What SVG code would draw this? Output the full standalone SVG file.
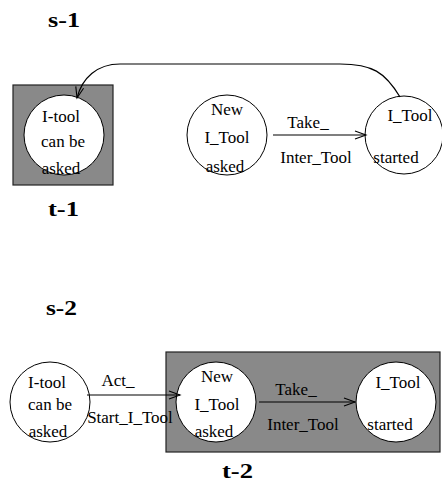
<svg xmlns="http://www.w3.org/2000/svg" width="442" height="484" viewBox="0 0 442 484">
<style>
.t{font-family:"Liberation Serif","Times New Roman",serif;font-size:17px;fill:#000;text-anchor:middle}
.h{font-family:"Liberation Serif","Times New Roman",serif;font-size:21px;font-weight:bold;fill:#000}
.st{fill:#fff;stroke:#000;stroke-width:1}
.box{fill:#898989;stroke:#222;stroke-width:1.2}
.c{fill:none;stroke:#000;stroke-width:1.2}
</style>
<defs>
<marker id="ah" markerUnits="userSpaceOnUse" markerWidth="14" markerHeight="12" refX="12" refY="5" orient="auto">
<path d="M1,1 L12,5 L1,9" fill="none" stroke="#000" stroke-width="1.1"/>
</marker>
</defs>
<rect class="box" x="13" y="85" width="100" height="100"/>
<rect class="box" x="166" y="352" width="274" height="100"/>
<text class="h" x="48" y="27" textLength="32" lengthAdjust="spacingAndGlyphs">s-1</text>
<text class="h" x="48" y="216" textLength="31" lengthAdjust="spacingAndGlyphs">t-1</text>
<text class="h" x="46" y="315" textLength="31" lengthAdjust="spacingAndGlyphs">s-2</text>
<text class="h" x="222" y="478" textLength="31" lengthAdjust="spacingAndGlyphs">t-2</text>
<g id="n1"><circle class="st" cx="64" cy="135" r="40"/><text class="t" x="61" y="122">I-tool</text><text class="t" x="63" y="147">can be</text><text class="t" x="61" y="174">asked</text></g>
<g id="n2"><circle class="st" cx="227" cy="135" r="40"/><text class="t" x="227" y="115">New</text><text class="t" x="227" y="143">I_Tool</text><text class="t" x="225" y="172">asked</text></g>
<g id="n3"><circle class="st" cx="404" cy="135" r="39"/><text class="t" x="410" y="121">I_Tool</text><text class="t" x="396" y="163">started</text></g>
<g id="n4"><circle class="st" cx="50" cy="402" r="40"/><text class="t" x="47" y="388">I-tool</text><text class="t" x="50" y="410">can be</text><text class="t" x="48" y="437">asked</text></g>
<g id="n5"><circle class="st" cx="216" cy="402" r="40"/><text class="t" x="217" y="382">New</text><text class="t" x="217" y="410">I_Tool</text><text class="t" x="214" y="437">asked</text></g>
<g id="n6"><circle class="st" cx="396" cy="402" r="40"/><text class="t" x="398" y="388">I_Tool</text><text class="t" x="390" y="430">started</text></g>
<g id="connectors">
<path class="c" d="M400,97 C385,72 372,64 340,64 L120,64 C97,64 82,78 77,98" marker-end="url(#ah)"/>
<line class="c" x1="273" y1="135" x2="366" y2="135" marker-end="url(#ah)"/>
<line class="c" x1="87" y1="395" x2="180" y2="395" marker-end="url(#ah)"/>
<line class="c" x1="259" y1="402" x2="355" y2="402" marker-end="url(#ah)"/>
<text class="t" x="308" y="128">Take_</text>
<text class="t" x="316" y="163">Inter_Tool</text>
<text class="t" x="118" y="386">Act_</text>
<text class="t" x="130" y="423">Start_I_Tool</text>
<text class="t" x="296" y="395">Take_</text>
<text class="t" x="303" y="430">Inter_Tool</text>
</g>
</svg>
